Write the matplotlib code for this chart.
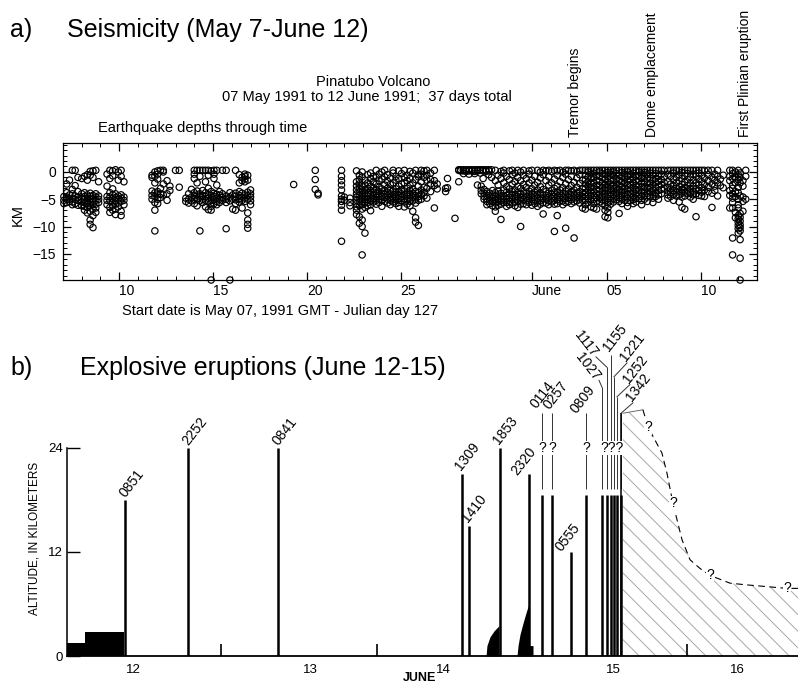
import matplotlib
matplotlib.use('Agg')
import matplotlib.pyplot as plt
import numpy as np

plt.rcParams['font.family'] = ['Liberation Sans', 'DejaVu Sans']
plt.rcParams['hatch.linewidth'] = 0.7

# ---------------- panel a: earthquake depths (day of May, June 1 = 32) ----------------
eq_day = [7.05, 7.2, 7.35, 7.5, 7.65, 7.8,
          8.0, 8.15, 8.3, 8.45, 8.6, 8.75, 8.9,
          9.35, 9.5, 9.65, 9.8, 9.95, 10.1, 10.25,
          11.75, 11.9, 12.05, 12.2, 12.35, 12.55, 12.7, 13.0, 13.2,
          13.55, 13.7, 13.85, 14.0, 14.15, 14.3, 14.45, 14.6, 14.75, 14.9, 15.05, 15.2,
          15.35, 15.5, 15.7, 15.9, 16.05, 16.2, 16.4, 16.55, 16.7, 16.85, 17.0,
          19.3, 20.45, 20.6, 21.85, 22.0, 22.3,
          22.65, 22.8, 22.95, 23.1, 23.25, 23.4, 23.55, 23.7, 23.85, 24.0, 24.15, 24.3,
          24.45, 24.6, 24.75, 24.9, 25.05, 25.2, 25.35, 25.5, 25.65, 25.8, 25.95, 26.1,
          26.25, 26.4, 26.6, 26.8, 26.95, 27.4, 27.5, 27.9,
          28.1, 28.2, 28.35, 28.5, 28.65, 28.8, 28.95, 29.1, 29.25, 29.4, 29.55, 29.7, 29.85,
          29.3, 29.45, 29.6, 29.75, 29.9, 30.05, 30.2, 30.35, 30.5, 30.65, 30.8, 30.95,
          31.1, 31.25, 31.4, 31.55, 31.7, 31.85, 32.0, 32.15, 32.3, 32.45, 32.6, 32.75,
          32.9, 33.05, 33.2, 33.35, 33.5, 33.65, 33.8, 33.95, 34.1, 34.25, 34.4, 34.55, 34.7,
          34.85, 35.0, 35.15, 35.3, 35.45, 35.6, 35.75, 35.9, 36.05, 36.2, 36.35, 36.5,
          36.65, 36.8, 36.95, 37.1, 37.25, 37.4, 37.55, 37.7, 37.85, 38.0, 38.15, 38.3,
          38.45, 38.6, 38.75, 38.9, 39.05,
          39.25, 39.4, 39.55, 39.7, 39.85, 40.0, 40.15, 40.3, 40.45, 40.6, 40.75, 40.9,
          41.05, 41.2, 41.4, 41.6, 41.75, 41.9, 42.05, 42.2,
          42.55, 42.7, 42.85, 43.0, 43.1, 43.25, 43.4]
eq_km = [
    [-4.5, -5.2, -5.8], [-3.8, -4.6, -5.0, -5.6, -2.2], [-4.2, -5.0, -5.4, -1.5],
    [0.3, -4.0, -4.8, -5.5, -6.0, -3.2], [0.3, -2.5, -4.4, -5.0, -5.8], [-1.0, -3.6, -4.6, -5.2, -6.1],
    [-1.2, -4.0, -4.8, -5.5, -6.2], [-0.8, -3.8, -4.5, -5.0, -5.6, -6.3, -7.0],
    [-0.5, -1.5, -4.2, -4.8, -5.3, -5.8, -6.5, -7.5],
    [0.1, -0.6, -3.9, -4.5, -5.0, -5.6, -6.2, -7.2, -8.8, -9.6],
    [0.2, -1.0, -4.3, -4.9, -5.4, -6.0, -6.8, -8.0, -10.2],
    [0.3, -4.0, -4.6, -5.2, -5.9, -6.6, -7.4], [-1.8, -4.4, -5.0, -5.6],
    [-0.4, -2.6, -4.5, -5.2, -6.0], [0.3, -1.2, -3.8, -4.6, -5.3, -6.5, -7.4],
    [0.2, -0.7, -3.1, -4.2, -4.9, -5.5, -6.2, -7.0], [0.4, -4.0, -4.7, -5.3, -5.9, -6.8, -7.8],
    [0.0, -1.5, -4.4, -5.0, -5.7, -6.4], [0.3, -0.8, -4.2, -4.8, -5.4, -7.2, -8.0], [-1.8, -4.6, -5.2, -6.0],
    [-0.6, -1.0, -3.5, -4.3, -5.0], [0.0, -0.8, -2.0, -3.8, -4.5, -5.6, -7.0, -10.8],
    [0.2, -0.4, -1.3, -3.6, -4.2, -5.0, -5.8], [0.3, -3.0, -4.0, -4.7], [0.3, 0.0, -2.2, -4.2],
    [-1.6, -4.0, -5.2], [-2.6, -3.4], [0.3], [0.3, -2.8],
    [-4.8, -5.4], [-4.0, -5.0, -5.7], [-3.2, -4.6, -5.3], [0.3, -0.4, -1.2, -3.8, -4.4, -5.0, -5.8],
    [0.3, -2.0, -3.5, -4.2, -4.9, -6.2], [0.3, -0.8, -4.0, -4.6, -5.3, -10.8],
    [0.3, -3.4, -4.3, -5.0, -5.6], [0.3, -1.8, -3.8, -4.5, -5.2, -6.4],
    [0.3, -0.6, -3.0, -4.2, -4.8, -5.5, -6.9], [0.2, -3.6, -4.3, -5.0, -5.7, -6.3, -7.0, -19.8],
    [0.3, -0.4, -1.2, -3.9, -4.5, -5.1, -5.8], [0.3, -2.4, -4.1, -4.8, -5.4, -6.0],
    [-3.6, -4.3, -5.0, -5.6], [0.3, -4.0, -4.7, -5.2], [0.3, -4.4, -5.0, -5.6, -10.4],
    [-3.8, -4.6, -5.3, -19.8], [-4.2, -5.0, -6.8], [0.3, -3.9, -4.5, -5.1, -5.8, -7.0],
    [-0.5, -2.0, -3.6, -4.3, -4.9, -5.5], [-1.0, -1.6, -3.9, -4.6, -5.2, -6.6],
    [-0.4, -0.8, -1.3, -1.8, -4.2, -4.8, -5.4], [-0.6, -1.5, -3.7, -4.4, -5.0, -7.5, -8.8, -9.6, -10.3],
    [-3.3, -4.0, -4.6, -5.3, -6.0],
    [-2.3], [0.3, -1.4, -3.2], [-3.9, -4.2],
    [0.3, -0.8, -1.6, -2.4, -3.3, -4.4, -5.0, -5.4, -6.1, -7.0, -12.7], [-4.6, -5.2], [-4.8, -5.6, -6.2],
    [0.2, -1.8, -2.6, -3.3, -4.0, -4.6, -5.2, -5.8, -6.4, -7.0, -7.8],
    [-0.6, -1.4, -2.2, -3.0, -3.7, -4.3, -5.0, -5.5, -6.2, -8.2, -9.4],
    [0.0, -0.9, -2.7, -3.5, -4.1, -4.8, -5.4, -6.0, -6.8, -8.8, -10.0, -15.2],
    [-1.5, -2.4, -3.2, -3.9, -4.5, -5.1, -5.7, -6.5, -11.2],
    [-0.5, -2.0, -3.0, -3.8, -4.4, -5.0, -5.6, -6.2],
    [-0.2, -1.2, -2.6, -3.4, -4.1, -4.8, -5.3, -6.0, -7.1],
    [-0.8, -1.8, -3.0, -3.7, -4.3, -4.9, -5.5], [0.3, -1.0, -2.2, -3.3, -4.0, -4.6, -5.2, -5.9],
    [-0.4, -1.6, -2.8, -3.6, -4.3, -5.0, -5.6], [0.0, -1.3, -3.1, -3.9, -4.5, -5.1, -6.3],
    [0.3, -0.9, -2.4, -3.4, -4.1, -4.7, -5.4], [-0.5, -1.7, -3.0, -3.7, -4.4, -5.0, -5.7],
    [-1.1, -2.3, -3.3, -4.0, -4.6, -5.2, -6.0], [0.3, -0.2, -2.0, -3.5, -4.2, -4.8, -5.5],
    [-0.8, -1.5, -3.1, -3.8, -4.5, -5.1, -5.8], [0.2, -1.2, -2.6, -3.6, -4.3, -4.9, -5.6, -6.3],
    [-0.3, -2.2, -3.3, -4.0, -4.6, -5.2], [0.3, -1.0, -2.0, -3.5, -4.2, -4.9, -5.5, -6.4],
    [-0.6, -1.6, -3.0, -3.8, -4.4, -5.1, -5.9], [0.1, -1.2, -2.4, -3.4, -4.1, -4.8, -5.4, -6.2],
    [-0.2, -2.0, -3.2, -3.9, -4.6, -5.3, -7.2], [0.3, -1.4, -3.6, -4.3, -5.0, -5.7, -8.4, -9.2],
    [-0.5, -0.9, -2.6, -3.8, -4.5, -5.2, -9.8], [0.3, -0.4, -1.8, -3.3, -4.1, -5.0],
    [0.2, -1.0, -2.8, -3.7, -4.4], [0.3, -0.6, -1.5, -3.0, -4.8], [-0.2, -1.4, -2.2, -3.6],
    [0.3, -1.6, -2.5, -6.6], [-2.2, -3.1], [-3.0, -3.6], [-1.2, -2.9], [-8.5],
    [0.4, 0.3, -1.8], [0.4, 0.2], [0.4, 0.2, -0.3], [0.4, 0.1], [0.4, 0.2, -0.4], [0.4, 0.2],
    [0.4, 0.1, -0.3], [0.4, 0.2, -2.4], [0.4, 0.3, -0.2], [0.4, 0.2, -1.2], [0.4, 0.1],
    [0.4, 0.2, -0.5], [0.4, -1.0],
    [-2.6, -3.4, -4.0], [-3.2, -3.9, -4.5, -5.0], [-3.6, -4.3, -4.9, -5.4, -6.0],
    [-3.9, -4.6, -5.2, -5.8], [-3.4, -4.2, -4.8, -5.4, -6.2],
    [0.3, -1.6, -3.8, -4.5, -5.1, -5.7, -6.4, -7.2], [-0.6, -2.4, -3.5, -4.2, -4.9, -5.5, -6.1],
    [0.1, -1.2, -3.9, -4.6, -5.3, -5.9, -8.7], [0.3, -0.2, -2.0, -3.3, -4.4, -5.0, -5.6],
    [-0.8, -2.7, -3.7, -4.3, -4.9, -5.6, -6.3], [0.2, -1.4, -3.1, -4.0, -4.7, -5.4, -6.0],
    [0.3, -0.5, -2.2, -3.6, -4.3, -5.0, -5.7], [-0.2, -1.8, -3.3, -4.1, -4.8, -5.5, -6.2],
    [0.3, -1.0, -2.6, -3.8, -4.5, -5.2, -6.5], [0.0, -1.6, -3.0, -4.0, -4.7, -5.3, -5.9, -10.0],
    [0.3, -0.6, -2.3, -3.6, -4.4, -5.1, -5.8], [-1.2, -2.8, -3.9, -4.6, -5.3, -6.0],
    [0.2, -0.4, -2.0, -3.5, -4.2, -4.9, -5.6], [0.3, -1.5, -3.1, -4.0, -4.7, -5.4, -6.1],
    [-0.8, -2.4, -3.7, -4.4, -5.1, -5.8], [0.3, -1.9, -3.3, -4.1, -4.8, -5.5, -6.3],
    [0.0, -1.1, -2.7, -3.9, -4.6, -5.2, -5.9], [0.3, -0.5, -3.2, -4.2, -4.9, -5.6, -7.7],
    [0.2, -1.6, -3.6, -4.3, -5.0, -5.7], [0.3, -0.9, -2.4, -3.9, -4.6, -5.3, -6.0],
    [0.1, -2.0, -3.4, -4.1, -4.8, -5.5], [0.3, -1.3, -3.0, -3.8, -4.5, -5.2, -5.9, -10.9],
    [0.2, -0.6, -2.6, -3.7, -4.4, -5.1, -5.8, -8.0], [0.3, -1.8, -3.3, -4.0, -4.7, -5.4],
    [0.0, -1.0, -2.9, -3.9, -4.6, -5.3, -6.0], [0.3, -0.4, -2.2, -3.5, -4.2, -4.9, -5.6, -10.3],
    [0.3, -1.4, -3.1, -4.0, -4.7, -5.4], [0.2, -0.8, -2.5, -3.7, -4.4, -5.1, -5.8],
    [0.3, -1.9, -3.3, -4.1, -4.8, -5.5, -12.1], [0.1, -1.1, -2.8, -3.9, -4.6, -5.3],
    [0.3, -0.5, -2.1, -3.6, -4.3, -5.0, -5.7], [0.3, -1.5, -3.0, -3.8, -4.5, -5.2, -6.6],
    [0.3, -0.6, -1.4, -2.2, -3.0, -3.8, -4.5, -5.2, -6.0, -6.8],
    [0.3, 0.0, -0.9, -1.8, -2.6, -3.4, -4.2, -4.9, -5.6],
    [0.3, -0.4, -1.2, -2.1, -2.9, -3.7, -4.4, -5.1, -6.4],
    [0.3, -0.2, -1.0, -1.9, -2.7, -3.5, -4.3, -5.0, -5.8, -6.6],
    [0.3, -0.6, -1.5, -2.4, -3.2, -4.0, -4.7, -5.4, -6.8],
    [0.3, 0.0, -0.8, -1.7, -2.5, -3.3, -4.1, -4.8, -5.5],
    [0.3, -0.3, -1.1, -2.0, -2.8, -3.6, -4.4, -5.1, -5.8],
    [0.3, -0.5, -1.4, -2.3, -3.1, -3.9, -4.6, -5.3, -6.2, -7.0, -8.2],
    [0.3, -0.1, -0.9, -1.8, -2.6, -3.4, -4.2, -4.9, -5.6, -6.6, -7.4, -8.4],
    [0.3, -0.4, -1.3, -2.2, -3.0, -3.8, -4.5, -5.2, -5.9],
    [0.3, 0.0, -0.7, -1.6, -2.5, -3.3, -4.1, -4.8, -5.5],
    [0.3, -0.3, -1.2, -2.0, -2.9, -3.7, -4.4, -5.1],
    [0.3, -0.6, -1.5, -2.4, -3.2, -4.0, -4.7, -5.4, -7.6],
    [0.3, -0.1, -0.9, -1.8, -2.7, -3.5, -4.3, -5.0, -5.8],
    [0.3, -0.4, -1.3, -2.1, -3.0, -3.8, -4.5, -5.2],
    [0.3, 0.0, -0.8, -1.7, -2.5, -3.3, -4.1, -4.8, -5.6, -6.3],
    [0.3, -0.5, -1.4, -2.3, -3.1, -3.9, -4.6, -5.3],
    [0.3, -0.2, -1.0, -1.9, -2.8, -3.6, -4.4, -5.1, -5.8],
    [0.3, -0.6, -1.5, -2.4, -3.2, -4.0, -4.8, -5.5],
    [0.3, 0.0, -0.8, -1.7, -2.6, -3.4, -4.2, -4.9],
    [0.3, -0.4, -1.2, -2.1, -2.9, -3.7, -4.5, -5.2, -6.0],
    [0.3, -0.1, -0.9, -1.8, -2.7, -3.5, -4.3, -5.0],
    [0.3, -0.5, -1.3, -2.2, -3.0, -3.9, -4.6, -5.4],
    [0.3, -0.2, -1.1, -2.0, -2.8, -3.6, -4.4],
    [0.3, -0.6, -1.5, -2.4, -3.3, -4.1, -4.8, -5.6],
    [0.3, -0.3, -1.2, -2.0, -2.9, -3.8, -4.5],
    [0.3, -0.8, -1.7, -2.6, -3.4, -4.2, -5.0],
    [0.3, -0.4, -1.4, -2.3, -3.2, -4.0], [0.3, -0.9, -1.9, -3.0],
    [0.3, -0.4, -1.8, -2.8, -3.5, -4.2, -4.8], [0.3, -0.8, -2.2, -3.1, -3.8, -4.5],
    [0.3, -0.2, -1.4, -2.6, -3.4, -4.1, -5.2], [0.3, -1.0, -2.0, -3.0, -3.7, -4.4],
    [0.3, -0.5, -1.6, -2.7, -3.5, -4.2, -5.5], [0.3, -0.1, -1.2, -2.3, -3.2, -3.9, -4.6, -6.5],
    [0.3, -0.7, -1.9, -2.9, -3.7, -4.4, -6.8], [0.3, -0.3, -1.4, -2.5, -3.3, -4.0],
    [0.3, -0.9, -2.1, -3.0, -3.8, -4.6], [0.3, -0.4, -1.5, -2.6, -3.5, -4.2, -5.0],
    [0.3, -0.8, -2.0, -3.1, -4.0, -8.2], [0.3, -0.2, -1.3, -2.4, -3.4, -4.3],
    [0.3, -0.6, -1.8, -2.9, -3.7, -4.4], [0.3, -1.1, -2.3, -3.3, -4.5],
    [0.3, -0.5, -1.6, -2.8, -3.6], [0.3, -1.0, -2.2, -3.9, -6.5], [-0.4, -1.5, -2.6, -3.4],
    [0.3, -0.8, -2.0, -4.4], [-1.3, -2.5], [-0.6, -2.9],
    [0.3, -0.8, -1.6, -3.4, -4.3, -6.6],
    [0.3, -0.3, -1.2, -2.4, -3.0, -4.0, -4.8, -5.6, -6.6, -12.1, -15.2],
    [0.0, -0.9, -2.0, -3.6, -4.5, -7.4, -8.4],
    [0.3, -0.5, -1.4, -2.8, -3.8, -5.0, -6.0, -6.6, -8.0, -8.6, -9.2, -9.8, -10.4, -11.2],
    [-0.2, -1.0, -2.0, -4.4, -7.6, -8.3, -9.0, -9.7, -10.2, -10.8, -12.4, -15.8, -19.8],
    [-1.6, -2.6, -4.6, -5.4, -7.2], [0.3, -0.8, -5.0]]

a_ticks = [10, 15, 20, 25, 32, 36, 41]
a_ticklabels = ['10', '15', '20', '25', 'June', '05', '10']
a_events = ['Tremor begins', 'Dome emplacement', 'First Plinian eruption']
a_event_day = [34.3, 38.4, 43.35]

# ---------------- panel b: explosive eruptions (x in display days) ----------------
pre_left = [11.563, 11.682]
pre_width = [0.119, 0.258]
pre_km = [1.5, 2.8]

solid_lbl = ['0851', '2252', '0841', '1309', '1410', '1853', '2320', '0555']
solid_x = [11.947, 12.364, 12.960, 14.179, 14.225, 14.430, 14.623, 14.901]
solid_km = [18, 24, 24, 21, 15, 24, 21, 12]

unc_lbl = ['0114', '0257', '0809', '1027', '1117', '1155', '1221', '1252', '1342']
unc_x = [14.709, 14.775, 15.000, 15.106, 15.139, 15.166, 15.185, 15.205, 15.232]
unc_top = [28.0, 28.0, 28.0, 31.0, 33.3, 34.7, 32.2, 29.9, 28.0]
certain_km = 18.6

# leader lines (start at column top, end at the label)
lead_lbl = ['1027', '1117', '1221', '1252', '1342']
lead_x = [15.086, 15.066, 15.272, 15.291, 15.311]
lead_km = [31.8, 34.5, 33.8, 31.3, 29.2]

hump1_x = [14.338, 14.344, 14.364, 14.391, 14.424]
hump1_km = [0.0, 1.2, 2.2, 2.9, 3.5]
hump2_x = [14.543, 14.550, 14.563, 14.583, 14.603, 14.623, 14.623, 14.649]
hump2_km = [0.0, 1.2, 2.5, 3.8, 5.0, 6.1, 1.2, 1.2]

q_lbl = ['?', '?', '?', '???']
q_x = [14.709, 14.775, 15.000, 15.169]
q_km = [24, 24, 24, 24]

plume_x = [15.245, 15.377, 15.411, 15.503, 15.536, 15.576, 15.603, 15.636, 15.689,
           15.755, 15.821, 15.954, 16.066, 16.199, 16.331, 16.404]
plume_km = [28.0, 28.4, 26.4, 23.4, 21.1, 17.6, 15.7, 13.4, 11.1,
            10.1, 9.3, 8.4, 8.2, 8.0, 7.8, 7.8]
plume_q = [2, 5, 10, 14]   # points of the plume top marked with "?"

b_ticks = [12.0, 13.172, 14.053, 15.179, 16.0]
b_ticklabels = ['12', '13', '14', '15', '16']
b_midnight = [12.583, 13.616, 14.616, 15.669]


def fpos(x, y):
    # pixel position in the 798x695 figure -> figure fraction
    return x / 798, 1 - y / 695


fig = plt.figure(figsize=(7.98, 6.95), dpi=100)

# ---------------------------------------------------------------- panel a
ax = fig.add_axes([0.0789, 0.5971, 0.8697, 0.1971])
xs, ys = [], []
for d, ks in zip(eq_day, eq_km):
    xs.extend([d] * len(ks))
    ys.extend(ks)
ax.scatter(xs, ys, s=21, facecolors='none', edgecolors='black', linewidths=0.85, clip_on=False)

ax.set_xlim(7, 44)
ax.set_ylim(-19.8, 5.3)
ax.set_xticks(a_ticks)
ax.set_xticklabels(a_ticklabels, ha='left')
ax.set_xticks(np.arange(8, 44), minor=True)
ax.set_yticks([0, -5, -10, -15])
ax.set_yticks(np.arange(-19, 6), minor=True)
ax.tick_params(which='both', direction='in', top=True, right=True)
ax.tick_params(which='major', length=5.5, width=0.9, labelsize=10, pad=3)
ax.tick_params(axis='y', which='major', pad=5)
ax.tick_params(which='minor', length=3, width=0.7)
for sp in ax.spines.values():
    sp.set_linewidth(0.9)

for lbl, d in zip(a_events, a_event_day):
    ax.annotate(lbl, xy=(d, 1), xycoords=('data', 'axes fraction'), xytext=(0, 4.5),
                textcoords='offset points', rotation=90, ha='center', va='bottom', fontsize=10)

fig.text(*fpos(10, 30), 'a)', fontsize=18, va='center')
fig.text(*fpos(67, 30), 'Seismicity (May 7-June 12)', fontsize=18, va='center')
fig.text(*fpos(373, 82), 'Pinatubo Volcano', fontsize=10.5, ha='center', va='center')
fig.text(*fpos(367, 97), '07 May 1991 to 12 June 1991;  37 days total', fontsize=10.5,
         ha='center', va='center')
fig.text(*fpos(98, 128), 'Earthquake depths through time', fontsize=10.5, va='center')
fig.text(*fpos(18, 215), 'KM', fontsize=10.5, rotation=90, ha='center', va='center')
fig.text(*fpos(122, 311), 'Start date is May 07, 1991 GMT - Julian day 127', fontsize=10.5,
         va='center')

# ---------------------------------------------------------------- panel b
bx = fig.add_axes([0.084, 0.0561, 0.916, 0.4616])
bx.patch.set_alpha(0)
bx.set_xlim(11.563, 16.404)
bx.set_ylim(0, 37)

# umbrella cloud (hatched, uncertain top)
bx.fill_between(plume_x, 0, plume_km, facecolor='none', edgecolor='#a8a8a8',
                hatch='\\\\', linewidth=0, zorder=1)
bx.plot(plume_x[1:], plume_km[1:], color='black', lw=0.8, ls=(0, (6, 4)), zorder=2)
bx.plot(plume_x[:2], plume_km[:2], color='#555555', lw=0.6, zorder=2)
for i in plume_q:
    bx.text(plume_x[i], plume_km[i], '?', fontsize=10, ha='center', va='center', zorder=3,
            bbox=dict(facecolor='white', edgecolor='none', pad=0.3))

# early low activity and pre-eruption swell
bx.bar(pre_left, pre_km, width=pre_width, align='edge', color='black', zorder=2)
bx.fill_between(hump1_x, 0, hump1_km, color='black', lw=0, zorder=2)
bx.fill_between(hump2_x, 0, hump2_km, color='black', lw=0, zorder=2)

# columns with known tops
bx.vlines(solid_x, 0, solid_km, color='black', lw=1.8, zorder=3)
# columns whose upper part is uncertain
bx.vlines(unc_x, 0, certain_km, color='black', lw=1.8, zorder=3)
bx.vlines(unc_x, certain_km + 0.7, unc_top, color='#333333', lw=0.7, zorder=3)
bx.vlines(unc_x[-1], 0, unc_top[-1], color='black', lw=1.1, zorder=3)
for i, lbl in enumerate(lead_lbl):
    j = unc_lbl.index(lbl)
    bx.plot([unc_x[j], lead_x[i]], [unc_top[j], lead_km[i]], color='#333333', lw=0.7, zorder=3)
for s, x, y in zip(q_lbl, q_x, q_km):
    bx.text(x, y, s, fontsize=10, ha='center', va='center', zorder=4,
            bbox=dict(facecolor='white', edgecolor='none', pad=0.2))

# time labels
lab_fs = 10
rot = 52
right_side = {'0851': (2, 0), '2252': (2, 0), '0841': (2, 0), '1309': (1, 1), '1410': (1, 1),
              '1853': (1, 1)}
for lbl, x, h in zip(solid_lbl, solid_x, solid_km):
    if lbl in right_side:
        off = right_side[lbl]
    elif lbl == '2320':
        off = (-7, -3)
    else:
        off = (-5, -1)
    bx.annotate(lbl, (x, h), xytext=off, textcoords='offset points', rotation=rot,
                rotation_mode='anchor', ha='left', va='bottom', fontsize=lab_fs)
unc_off = {'0114': (-2, 2), '0257': (0, 1), '0809': (-5, -2), '1155': (0, 1)}
for lbl, x, h in zip(unc_lbl, unc_x, unc_top):
    if lbl in unc_off:
        bx.annotate(lbl, (x, h), xytext=unc_off[lbl], textcoords='offset points', rotation=rot,
                    rotation_mode='anchor', ha='left', va='bottom', fontsize=lab_fs)
for i, lbl in enumerate(lead_lbl):
    if lbl in ('1027', '1117'):
        bx.annotate(lbl, (lead_x[i], lead_km[i]), xytext=(-1, 1), textcoords='offset points',
                    rotation=-52, rotation_mode='anchor', ha='right', va='center',
                    fontsize=lab_fs)
    else:
        bx.annotate(lbl, (lead_x[i], lead_km[i]), xytext=(1, -1), textcoords='offset points',
                    rotation=rot, rotation_mode='anchor', ha='left', va='bottom',
                    fontsize=lab_fs)

for side in ('top', 'right'):
    bx.spines[side].set_visible(False)
bx.spines['left'].set_bounds(0, 24)
bx.spines['left'].set_linewidth(1.1)
bx.spines['bottom'].set_linewidth(1.3)
bx.set_yticks([0, 12, 24])
bx.tick_params(axis='y', direction='in', length=9.5, width=1.0, labelsize=9.5, pad=3)
bx.set_xticks(b_ticks)
bx.set_xticklabels(b_ticklabels)
bx.set_xticks(b_midnight, minor=True)
bx.tick_params(axis='x', which='major', length=0, labelsize=9.5, pad=6)
bx.tick_params(axis='x', which='minor', direction='in', length=9, width=1.2)

fig.text(*fpos(10, 368), 'b)', fontsize=18, va='center')
fig.text(*fpos(80, 368), 'Explosive eruptions (June 12-15)', fontsize=18, va='center')
fig.text(*fpos(35, 538), 'ALTITUDE, IN KILOMETERS', fontsize=8.5, rotation=90,
         ha='center', va='center')
fig.text(*fpos(420, 678), 'JUNE', fontsize=9, fontweight='bold', ha='center', va='center')

fig.savefig('out.png', dpi=100)
